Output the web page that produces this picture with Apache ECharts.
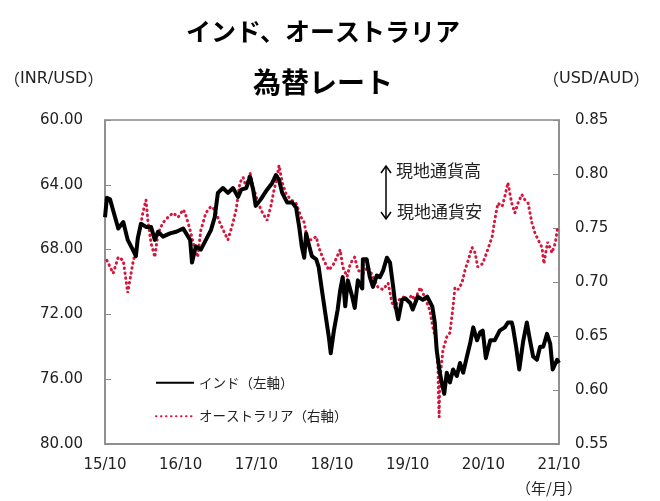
<!DOCTYPE html>
<html>
<head>
<meta charset="utf-8">
<script src="https://cdn.jsdelivr.net/npm/echarts@6/dist/echarts.min.js"></script>
<style>
  html, body { margin: 0; padding: 0; background: #fff; }
  #chart { width: 660px; height: 501px; }
</style>
</head>
<body>
<div id="chart"></div>
<script>
// months counted from 2015/10
var xLabels = ['15/10', '16/10', '17/10', '18/10', '19/10', '20/10', '21/10'];

var inrMonths = [0, 0.3, 0.8, 1.6, 2.1, 2.9, 3.6, 4.4, 4.9, 5.2, 5.7, 6.5, 7.3, 7.9, 8.4, 9.2, 10.3, 11.3, 12.4, 12.7,
  13.5, 13.8, 14.4, 15.2, 16.0, 16.8, 17.4, 17.9, 18.7, 19.5, 20.3, 21.1, 21.6, 22.4, 23.0, 23.5, 23.9, 24.7,
  25.7, 26.5, 27.1, 27.6, 28.1, 28.9, 29.7, 30.3, 30.8, 31.2, 31.6, 31.9, 32.4, 32.8, 33.5, 33.9, 34.4, 35.0,
  35.5, 35.8, 36.3, 36.9, 37.3, 37.7, 38.1, 38.5, 39.2, 39.6, 40.1, 40.8, 40.9, 41.5, 42.0, 42.5, 43.1, 43.6,
  44.1, 44.7, 45.2, 45.7, 46.0, 46.5, 47.1, 47.6, 48.4, 48.8, 49.6, 50.4, 51.1, 51.9, 52.3, 52.6, 53.1, 53.4,
  53.8, 54.2, 54.7, 55.2, 55.8, 56.3, 56.8, 57.4, 57.9, 58.4, 59.0, 59.5, 59.9, 60.4, 61.1, 61.8, 62.6, 63.4,
  63.9, 64.5, 64.7, 65.2, 65.7, 66.3, 66.9, 67.4, 67.9, 68.5, 69.0, 69.5, 70.1, 70.6, 71.0, 71.7, 72.0];
var inrValues = [66.0, 64.8, 64.9, 66.0, 66.7, 66.3, 67.4, 68.0, 68.4, 67.3, 66.4, 66.6, 66.6, 67.4, 66.9, 67.2, 67.0, 66.9, 66.7, 66.8,
  67.4, 68.8, 67.8, 68.0, 67.4, 66.8, 66.0, 64.5, 64.2, 64.5, 64.2, 64.75, 64.3, 64.2, 63.5, 64.3, 65.3, 64.9,
  64.3, 63.9, 63.4, 63.7, 64.5, 65.1, 65.1, 65.4, 66.6, 67.8, 68.5, 67.0, 67.8, 68.4, 68.6, 69.1, 70.5, 72.1,
  73.4, 74.4, 73.0, 71.7, 70.5, 69.7, 71.5, 69.9, 70.9, 71.6, 69.9, 70.4, 68.6, 68.6, 69.7, 70.3, 69.6, 69.7,
  69.3, 68.5, 68.8, 70.3, 71.3, 72.3, 71.1, 71.0, 71.3, 71.7, 70.9, 71.1, 70.9, 71.5, 72.5, 74.2, 75.6, 76.2,
  76.9, 75.6, 76.2, 75.4, 75.8, 75.0, 75.6, 74.6, 73.8, 72.8, 73.6, 73.1, 73.0, 74.7, 73.6, 73.6, 73.0, 72.8,
  72.5, 72.5, 72.8, 74.0, 75.4, 73.7, 72.5, 73.6, 74.6, 74.8, 74.0, 74.0, 73.2, 73.8, 75.4, 74.8, 75.0];

var audMonths = [0.3, 1.3, 2.1, 2.9, 3.6, 4.4, 4.9, 5.6, 6.0, 6.5, 6.8, 7.3, 7.9, 8.4, 9.2, 10.0, 10.8, 11.6, 12.4, 12.7,
  13.5, 14.0, 14.7, 15.2, 16.0, 16.8, 17.4, 18.2, 19.0, 19.5, 20.3, 20.8, 21.4, 21.9, 22.4, 23.0, 23.5, 24.3,
  24.9, 25.7, 26.3, 26.8, 27.3, 27.6, 28.1, 28.7, 29.5, 30.3, 31.1, 31.6, 32.0, 32.6, 33.5, 33.9, 34.7, 35.5,
  36.3, 37.3, 37.7, 38.4, 38.9, 39.6, 40.1, 40.9, 41.7, 42.5, 43.3, 44.1, 44.9, 45.5, 46.0, 46.5, 47.3, 48.0,
  48.7, 49.1, 50.0, 50.7, 51.5, 52.0, 52.5, 52.8, 52.9, 53.0, 53.1, 53.6, 54.2, 54.7, 55.2, 55.5, 56.0, 56.6,
  57.1, 57.6, 58.2, 58.7, 59.1, 59.9, 60.7, 61.4, 61.8, 62.3, 63.0, 63.4, 63.9, 64.5, 65.0, 65.5, 66.1, 66.6,
  67.1, 67.7, 68.2, 68.7, 69.3, 69.6, 70.2, 70.9, 71.4, 71.8];
var audValues = [0.720, 0.708, 0.723, 0.720, 0.690, 0.717, 0.730, 0.751, 0.764, 0.776, 0.757, 0.736, 0.723, 0.745, 0.755, 0.760, 0.764, 0.760, 0.767, 0.764,
  0.748, 0.736, 0.723, 0.748, 0.764, 0.770, 0.767, 0.755, 0.745, 0.739, 0.755, 0.767, 0.792, 0.797, 0.788, 0.801, 0.788, 0.773,
  0.765, 0.757, 0.770, 0.785, 0.797, 0.808, 0.792, 0.782, 0.776, 0.773, 0.760, 0.755, 0.742, 0.739, 0.742, 0.732, 0.720, 0.711,
  0.717, 0.730, 0.714, 0.705, 0.717, 0.723, 0.711, 0.708, 0.714, 0.705, 0.695, 0.693, 0.699, 0.681, 0.676, 0.683, 0.686, 0.683,
  0.688, 0.683, 0.695, 0.686, 0.674, 0.658, 0.646, 0.621, 0.590, 0.575, 0.609, 0.637, 0.649, 0.653, 0.677, 0.695, 0.693, 0.699,
  0.711, 0.720, 0.732, 0.727, 0.714, 0.717, 0.730, 0.742, 0.757, 0.773, 0.770, 0.779, 0.792, 0.773, 0.764, 0.773, 0.781, 0.776,
  0.773, 0.755, 0.745, 0.739, 0.732, 0.717, 0.737, 0.727, 0.736, 0.751];

var inrData = inrMonths.map(function (m, i) { return [m, inrValues[i]]; });
var audData = audMonths.map(function (m, i) { return [m, audValues[i]]; });

var latin = "'DejaVu Sans', sans-serif";
var jp = "'Noto Sans CJK JP', sans-serif";
var frame = '#8a8a8a';
var red = '#d6163d';

// unit labels: latin letters with full-width brackets
function unitText(s) {
  return {
    text: '{p|（}' + s + '{p|）}',
    font: '16px ' + latin,
    fill: '#222',
    rich: { p: { fontFamily: jp, fontSize: 16, fill: '#222' } }
  };
}

var chart = echarts.init(document.getElementById('chart'));
var options = {
  animation: false,
  title: [
    {
      text: 'インド、オーストラリア',
      left: 318, top: 14, textAlign: 'center',
      textStyle: { fontFamily: jp, fontWeight: 'bold', fontSize: 25, color: '#000' }
    },
    {
      text: '為替レート',
      left: 318, top: 63, textAlign: 'center',
      textStyle: { fontFamily: jp, fontWeight: 'bold', fontSize: 28, color: '#000' }
    }
  ],
  grid: {
    left: 105, right: 101, top: 120, bottom: 57,
    show: true, borderColor: frame, borderWidth: 1.5
  },
  legend: {
    orient: 'vertical',
    left: 150, top: 371,
    itemWidth: 38, itemHeight: 14, itemGap: 20,
    itemStyle: { opacity: 0 },
    textStyle: { fontFamily: jp, fontSize: 13.5, color: '#222' },
    data: ['インド（左軸）', 'オーストラリア（右軸）']
  },
  xAxis: {
    type: 'value',
    min: 0, max: 72, interval: 12,
    axisLine: { show: true, lineStyle: { color: frame, width: 1.5 } },
    axisTick: { show: false },
    splitLine: { show: false },
    axisLabel: {
      margin: 14,
      fontFamily: latin, fontSize: 15, color: '#222',
      formatter: function (v) { return xLabels[Math.round(v / 12)]; }
    }
  },
  yAxis: [
    {
      type: 'value',
      inverse: true,
      min: 60, max: 80, interval: 4,
      axisLine: { show: true, lineStyle: { color: frame, width: 1.5 } },
      axisTick: { show: true, inside: true, length: 6, lineStyle: { color: frame } },
      splitLine: { show: false },
      axisLabel: {
        margin: 22,
        fontFamily: latin, fontSize: 15, color: '#222',
        formatter: function (v) { return v.toFixed(2); }
      }
    },
    {
      type: 'value',
      min: 0.55, max: 0.85, interval: 0.05,
      axisLine: { show: true, lineStyle: { color: frame, width: 1.5 } },
      axisTick: { show: true, inside: true, length: 6, lineStyle: { color: frame } },
      splitLine: { show: false },
      axisLabel: {
        margin: 16,
        fontFamily: latin, fontSize: 15, color: '#222',
        formatter: function (v) { return v.toFixed(2); }
      }
    }
  ],
  graphic: [
    { type: 'text', left: 4, top: 71, style: unitText('INR/USD') },
    { type: 'text', left: 543, top: 71, style: unitText('USD/AUD') },
    { type: 'text', left: 516, top: 481, style: { text: '（年/月）', font: '15px ' + jp, fill: '#222' } },
    { type: 'polyline', shape: { points: [[386, 166], [386, 219]] }, style: { stroke: '#000', lineWidth: 1.5 } },
    { type: 'polyline', shape: { points: [[381, 173], [386, 166], [391, 173]] }, style: { stroke: '#000', lineWidth: 1.5, fill: null } },
    { type: 'polyline', shape: { points: [[381, 212], [386, 219], [391, 212]] }, style: { stroke: '#000', lineWidth: 1.5, fill: null } },
    { type: 'text', left: 396, top: 162, style: { text: '現地通貨高', font: '17px ' + jp, fill: '#222' } },
    { type: 'text', left: 397, top: 203, style: { text: '現地通貨安', font: '17px ' + jp, fill: '#222' } }
  ],
  series: [
    {
      name: 'インド（左軸）',
      type: 'line',
      yAxisIndex: 0,
      data: inrData,
      symbol: 'none',
      color: '#000',
      lineStyle: { color: '#000', width: 4, join: 'round' },
      z: 3
    },
    {
      name: 'オーストラリア（右軸）',
      type: 'line',
      yAxisIndex: 1,
      data: audData,
      symbol: 'none',
      color: red,
      lineStyle: { color: red, width: 3, type: [0.5, 4.5], cap: 'round' },
      z: 2
    }
  ]
};
chart.setOption(options);
</script>
</body>
</html>
